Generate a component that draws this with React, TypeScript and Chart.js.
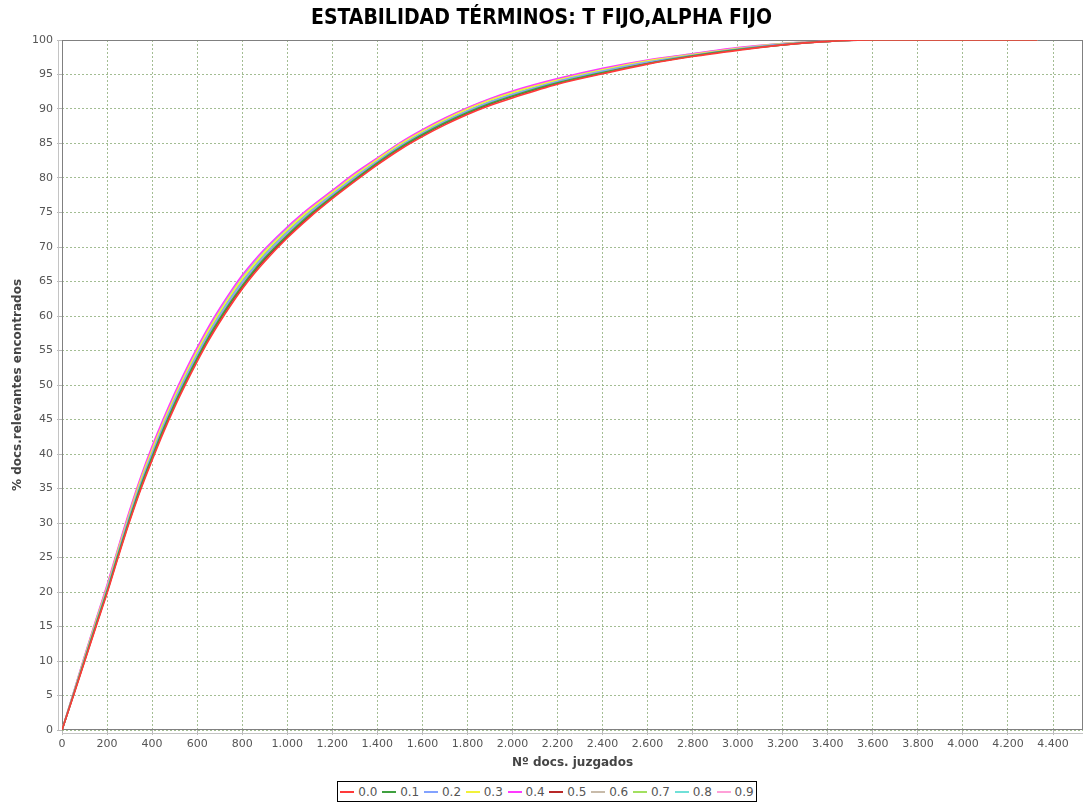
import React, { useEffect, useRef } from "react";
import { Chart, registerables } from "chart.js";

Chart.register(...registerables);

const TITLE = "ESTABILIDAD TÉRMINOS: T FIJO,ALPHA FIJO";
const X_TITLE = "Nº docs. juzgados";
const Y_TITLE = "% docs.relevantes encontrados";

const SERIES_LABELS = ["0.0", "0.1", "0.2", "0.3", "0.4", "0.5", "0.6", "0.7", "0.8", "0.9"];
const SERIES_COLORS = [
  "#FF3A3A", "#3FA03F", "#82A2FF", "#F2F23A", "#FF3AFF",
  "#B82828", "#C8BBAA", "#A2E060", "#70E0D8", "#FFA0D8",
];

const X_DOCS = [0, 50, 100, 150, 200, 250, 300, 350, 400, 450, 500, 550, 600, 650, 700, 750, 800, 850, 900, 1000, 1100, 1200, 1300, 1400, 1500, 1600, 1700, 1800, 1900, 2000, 2200, 2400, 2600, 2800, 3000, 3200, 3400, 3600, 4330];

// 0.0 (lowest of the band)
const S00 = [0, 4.9, 9.9, 14.9, 19.8, 25.1, 30.2, 34.9, 39.1, 43.1, 46.8, 50.2, 53.4, 56.4, 59.1, 61.6, 63.9, 66.0, 67.9, 71.3, 74.3, 77.0, 79.5, 81.9, 84.1, 86.0, 87.7, 89.2, 90.5, 91.6, 93.6, 95.1, 96.5, 97.6, 98.5, 99.3, 99.8, 100, 100];
// 0.1
const S01 = [0, 5.0, 10.1, 15.2, 20.1, 25.5, 30.6, 35.4, 39.6, 43.6, 47.3, 50.7, 53.9, 56.9, 59.6, 62.1, 64.4, 66.5, 68.4, 71.7, 74.7, 77.3, 79.8, 82.2, 84.4, 86.3, 88.0, 89.5, 90.8, 91.9, 93.8, 95.3, 96.6, 97.7, 98.6, 99.3, 99.8, 100, 100];
// 0.2
const S02 = [0, 5.1, 10.3, 15.4, 20.4, 25.8, 31.0, 35.8, 40.1, 44.1, 47.8, 51.2, 54.4, 57.4, 60.1, 62.6, 64.9, 66.9, 68.8, 72.1, 75.0, 77.6, 80.1, 82.4, 84.6, 86.5, 88.2, 89.7, 91.0, 92.1, 94.0, 95.5, 96.8, 97.8, 98.7, 99.4, 99.8, 100, 100];
// 0.3
const S03 = [0, 5.2, 10.5, 15.7, 20.7, 26.2, 31.4, 36.3, 40.6, 44.6, 48.3, 51.7, 54.9, 57.9, 60.6, 63.1, 65.4, 67.4, 69.3, 72.5, 75.4, 77.9, 80.4, 82.7, 84.9, 86.8, 88.5, 90.0, 91.3, 92.4, 94.2, 95.7, 97.0, 97.9, 98.8, 99.5, 99.8, 100, 100];
// 0.4 (highest of the band)
const S04 = [0, 5.3, 10.7, 15.9, 21.0, 26.5, 31.8, 36.7, 41.1, 45.1, 48.8, 52.2, 55.4, 58.4, 61.1, 63.6, 65.9, 67.9, 69.7, 72.9, 75.7, 78.2, 80.7, 82.9, 85.1, 87.0, 88.7, 90.2, 91.5, 92.6, 94.4, 95.9, 97.1, 98.0, 98.9, 99.5, 99.8, 100, 100];
// 0.5
const S05 = [0, 5.0, 10.0, 15.0, 20.0, 25.3, 30.4, 35.1, 39.4, 43.4, 47.1, 50.5, 53.7, 56.7, 59.4, 61.9, 64.2, 66.3, 68.2, 71.5, 74.5, 77.2, 79.7, 82.1, 84.3, 86.2, 87.9, 89.4, 90.7, 91.8, 93.7, 95.2, 96.6, 97.7, 98.6, 99.3, 99.8, 100, 100];
// 0.6
const S06 = [0, 5.1, 10.2, 15.3, 20.3, 25.6, 30.8, 35.6, 39.9, 43.9, 47.6, 51.0, 54.2, 57.2, 59.9, 62.4, 64.7, 66.7, 68.6, 71.9, 74.9, 77.5, 80.0, 82.3, 84.5, 86.4, 88.1, 89.6, 90.9, 92.0, 93.9, 95.4, 96.7, 97.8, 98.7, 99.4, 99.8, 100, 100];
// 0.7
const S07 = [0, 5.2, 10.4, 15.5, 20.5, 26.0, 31.2, 36.0, 40.3, 44.3, 48.0, 51.4, 54.6, 57.6, 60.3, 62.8, 65.1, 67.1, 69.0, 72.3, 75.2, 77.7, 80.2, 82.5, 84.7, 86.6, 88.3, 89.8, 91.1, 92.2, 94.1, 95.6, 96.9, 97.9, 98.7, 99.4, 99.8, 100, 100];
// 0.8
const S08 = [0, 5.3, 10.6, 15.8, 20.8, 26.3, 31.6, 36.5, 40.8, 44.8, 48.5, 51.9, 55.1, 58.1, 60.8, 63.3, 65.6, 67.6, 69.5, 72.7, 75.5, 78.0, 80.5, 82.8, 85.0, 86.9, 88.6, 90.1, 91.4, 92.5, 94.3, 95.8, 97.0, 98.0, 98.8, 99.5, 99.8, 100, 100];
// 0.9
const S09 = [0, 5.2, 10.3, 15.5, 20.6, 25.9, 31.1, 35.9, 40.2, 44.2, 47.9, 51.3, 54.5, 57.5, 60.2, 62.7, 65.0, 67.0, 68.9, 72.2, 75.1, 77.7, 80.1, 82.4, 84.6, 86.5, 88.2, 89.7, 91.0, 92.1, 94.0, 95.5, 96.8, 97.8, 98.7, 99.4, 99.8, 100, 100];

const SERIES_VALUES = [S00, S01, S02, S03, S04, S05, S06, S07, S08, S09];

const X_MIN = 0;
const X_MAX = 4533;
const X_STEP = 200;
const Y_MIN = 0;
const Y_MAX = 100;
const Y_STEP = 5;

const FONT = "'DejaVu Sans', Verdana, sans-serif";
const TITLE_FONT = "'DejaVu Sans Condensed', 'DejaVu Sans', sans-serif";

function fmtThousands(v: number): string {
  const n = Math.round(v);
  if (n < 1000) return String(n);
  const th = Math.floor(n / 1000);
  const rest = String(n % 1000).padStart(3, "0");
  return th + "." + rest;
}

const plotFrame = {
  id: "plotFrame",
  beforeDatasetsDraw(chart: any) {
    const { ctx, chartArea } = chart;
    const { left, top, right, bottom } = chartArea;
    ctx.save();
    ctx.strokeStyle = "#808080";
    ctx.lineWidth = 1;
    ctx.strokeRect(Math.round(left) + 0.5, Math.round(top) + 0.5, Math.round(right - left) - 1, Math.round(bottom - top) - 1);
    ctx.strokeStyle = "#c4c4c4";
    ctx.beginPath();
    ctx.moveTo(Math.round(left), Math.round(bottom) + 3.5);
    ctx.lineTo(Math.round(right), Math.round(bottom) + 3.5);
    ctx.moveTo(Math.round(left) - 3.5, Math.round(top));
    ctx.lineTo(Math.round(left) - 3.5, Math.round(bottom));
    ctx.stroke();
    ctx.restore();
  },
};

export default function App() {
  const canvasRef = useRef<HTMLCanvasElement | null>(null);

  useEffect(() => {
    document.body.style.margin = "0";
    const canvas = canvasRef.current;
    if (!canvas) return;

    const datasets = SERIES_LABELS.map((label, i) => ({
      label,
      data: X_DOCS.map((x, j) => ({ x, y: SERIES_VALUES[i][j] })),
      borderColor: SERIES_COLORS[i],
      backgroundColor: SERIES_COLORS[i],
      borderWidth: 1.6,
      pointRadius: 0,
      fill: false,
      cubicInterpolationMode: "monotone" as const,
    }));

    const gridColor = "rgba(140,172,120,0.8)";

    const chart = new Chart(canvas, {
      type: "line",
      data: { datasets },
      plugins: [plotFrame],
      options: {
        animation: false,
        responsive: false,
        devicePixelRatio: 1,
        layout: { padding: { left: 0, right: 1, top: 0, bottom: 0 } },
        plugins: {
          legend: { display: false },
          tooltip: { enabled: false },
          title: {
            display: true,
            text: TITLE,
            color: "#000",
            font: { family: TITLE_FONT, size: 21, weight: "bold", lineHeight: 1.0 },
            padding: { top: 8, bottom: 11 },
          },
        },
        scales: {
          x: {
            type: "linear",
            min: X_MIN,
            max: X_MAX,
            afterFit(scale: any) {
              scale.height = 73;
            },
            afterBuildTicks(scale: any) {
              scale.ticks = scale.ticks.filter((t: any) => Math.abs(t.value % X_STEP) < 1e-6);
            },
            ticks: {
              stepSize: X_STEP,
              includeBounds: false,
              color: "#555",
              font: { family: FONT, size: 11 },
              padding: 3,
              maxRotation: 0,
              autoSkip: false,
              callback: (v: any) => fmtThousands(Number(v)),
            },
            grid: {
              color: gridColor,
              lineWidth: 1,
              tickColor: "#b8b8b8",
              tickLength: 5,
              tickBorderDash: [],
            },
            border: { display: false, dash: [2, 2] },
            title: {
              display: true,
              text: X_TITLE,
              color: "#444",
              font: { family: FONT, size: 12, weight: "bold" },
              padding: { top: 0, bottom: 32.8 },
            },
          },
          y: {
            type: "linear",
            min: Y_MIN,
            max: Y_MAX,
            afterFit(scale: any) {
              scale.width = 62;
            },
            ticks: {
              stepSize: Y_STEP,
              color: "#555",
              font: { family: FONT, size: 11 },
              padding: 4,
              autoSkip: false,
            },
            grid: {
              color: gridColor,
              lineWidth: 1,
              tickColor: "#b8b8b8",
              tickLength: 5,
              tickBorderDash: [],
            },
            border: { display: false, dash: [2, 2] },
            title: {
              display: true,
              text: Y_TITLE,
              color: "#444",
              font: { family: FONT, size: 12, weight: "bold" },
              padding: { top: 11, bottom: 0 },
            },
          },
        },
      } as any,
    });

    return () => chart.destroy();
  }, []);

  return (
    <div style={{ position: "relative", width: 1084, height: 803, background: "#fff" }}>
      <canvas ref={canvasRef} width={1084} height={803} style={{ width: 1084, height: 803, display: "block" }} />
      <div
        style={{
          position: "absolute",
          left: 337,
          top: 781,
          width: 420,
          height: 21,
          boxSizing: "border-box",
          border: "1px solid #000",
          display: "flex",
          alignItems: "center",
          justifyContent: "space-around",
          fontFamily: FONT,
          fontSize: 12,
          color: "#555",
          background: "#fff",
        }}
      >
        {SERIES_LABELS.map((label, i) => (
          <div key={label} style={{ display: "flex", alignItems: "center" }}>
            <span style={{ display: "inline-block", width: 14, height: 2, background: SERIES_COLORS[i], marginRight: 4 }} />
            <span>{label}</span>
          </div>
        ))}
      </div>
    </div>
  );
}
